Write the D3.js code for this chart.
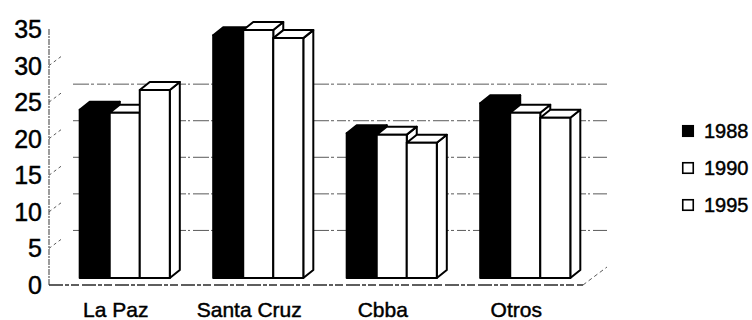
<!DOCTYPE html>
<html>
<head>
<meta charset="utf-8">
<script src="https://cdn.jsdelivr.net/npm/d3@7/dist/d3.min.js"></script>
<style>
  html, body { margin: 0; padding: 0; background: #fff; }
  svg { display: block; font-family: "Liberation Sans", Arial, sans-serif; }
  text { fill: #000; stroke: #000; stroke-width: 0.45px; }
</style>
</head>
<body>
<svg id="chart" width="752" height="320"></svg>
<script>
// Data
const categories = ["La Paz", "Santa Cruz", "Cbba", "Otros"];
const seriesNames = ["1988", "1990", "1995"];
const values1988 = [23.0, 33.2, 19.8, 23.9];
const values1990 = [22.6, 33.9, 19.6, 22.6];
const values1995 = [25.7, 32.8, 18.5, 21.9];
const tickValues = [0, 5, 10, 15, 20, 25, 30, 35];
const gridValues = [5, 10, 15, 20, 25];

const series = [values1988, values1990, values1995];
const fills = ["#000", "#fff", "#fff"];

const svg = d3.select("#chart");

// Oblique 3D frame: the floor front edge and the depth vector of the walls
const floorLeft = 49, floorRight = 583, floorFront = 285;
const wallDx = 24, wallDy = -18;          // full depth of the plot box
const barShiftX = 9, barShiftY = -7;      // front plane of the columns
const barDx = 10, barDy = -8;             // depth of each column

const y = d3.scaleLinear().domain([0, 35]).range([floorFront, floorFront - 35 * 7.314]);
const x = d3.scaleBand().domain(categories).range([floorLeft, floorRight]).paddingInner(0).paddingOuter(0);
const xs = d3.scaleBand().domain(seriesNames).range([0, x.bandwidth() * 0.675]);

const gLine = "#5a5a5a";

// Back-wall gridlines
svg.append("g").selectAll("line").data(gridValues).join("line")
  .attr("x1", floorLeft + wallDx).attr("x2", floorRight + wallDx)
  .attr("y1", d => y(d) + wallDy).attr("y2", d => y(d) + wallDy)
  .attr("stroke", gLine).attr("stroke-width", 1)
  .attr("stroke-dasharray", "16 2 3 3 9 2 2 3");

// Left-wall tick diagonals
svg.append("g").selectAll("line").data(tickValues.filter(v => v > 0 && v < 35)).join("line")
  .attr("x1", floorLeft).attr("y1", d => y(d))
  .attr("x2", floorLeft + wallDx * 0.55).attr("y2", d => y(d) + wallDy * 0.55)
  .attr("stroke", gLine).attr("stroke-width", 1)
  .attr("stroke-dasharray", "3 3");

// Front value axis line
svg.append("line")
  .attr("x1", floorLeft).attr("x2", floorLeft)
  .attr("y1", y(35)).attr("y2", floorFront)
  .attr("stroke", gLine).attr("stroke-width", 1.2)
  .attr("stroke-dasharray", "6 1 2 1");

// Floor front edge and right edge
svg.append("line")
  .attr("x1", floorLeft).attr("x2", floorRight)
  .attr("y1", floorFront).attr("y2", floorFront)
  .attr("stroke", "#2a2a2a").attr("stroke-width", 1.3)
  .attr("stroke-dasharray", "14 2 4 2 8 3");
svg.append("line")
  .attr("x1", floorRight).attr("y1", floorFront)
  .attr("x2", floorRight + wallDx).attr("y2", floorFront + wallDy)
  .attr("stroke", gLine).attr("stroke-width", 1)
  .attr("stroke-dasharray", "4 3");

// Value labels
svg.append("g").selectAll("text").data(tickValues).join("text")
  .attr("x", 42).attr("y", d => y(d))
  .attr("text-anchor", "end").attr("dominant-baseline", "central")
  .attr("font-size", 25)
  .text(d => d);

// Category labels
svg.append("g").selectAll("text").data(categories).join("text")
  .attr("x", d => x(d) + x.bandwidth() / 2)
  .attr("y", 317)
  .attr("text-anchor", "middle")
  .attr("font-size", 21)
  .text(d => d);

// Columns, drawn left to right so each hides the side of the previous one
const barsG = svg.append("g");
const yBar = v => y(v) + barShiftY;
categories.forEach((cat, ci) => {
  const groupW = xs.range()[1];
  const gx = x(cat) + (x.bandwidth() - groupW) / 2 + barShiftX;
  seriesNames.forEach((s, si) => {
    const v = series[si][ci];
    const x0 = gx + xs(s), x1 = x0 + xs.bandwidth();
    const yt = yBar(v), yb = yBar(0);
    const fill = fills[si];
    const g = barsG.append("g")
      .attr("stroke", "#000").attr("stroke-width", 2).attr("stroke-linejoin", "round");
    // side face
    g.append("path").attr("fill", fill)
      .attr("d", d3.line()([[x1, yb], [x1 + barDx, yb + barDy], [x1 + barDx, yt + barDy], [x1, yt]]) + "Z");
    // top face
    g.append("path").attr("fill", fill)
      .attr("d", d3.line()([[x0, yt], [x0 + barDx, yt + barDy], [x1 + barDx, yt + barDy], [x1, yt]]) + "Z");
    // front face
    g.append("rect").attr("fill", fill)
      .attr("x", x0).attr("y", yt).attr("width", x1 - x0).attr("height", yb - yt);
  });
});

// Legend
const legend = svg.append("g").attr("transform", "translate(682,131)");
const li = legend.selectAll("g").data(seriesNames).join("g")
  .attr("transform", (d, i) => `translate(0,${i * 37})`);
li.append("rect")
  .attr("x", 0.75).attr("y", -5.25).attr("width", 10.5).attr("height", 10.5)
  .attr("fill", (d, i) => fills[i]).attr("stroke", "#000").attr("stroke-width", 1.6);
li.append("text")
  .attr("x", 22).attr("y", 0).attr("dominant-baseline", "central")
  .attr("font-size", 20)
  .text(d => d);
</script>
</body>
</html>
